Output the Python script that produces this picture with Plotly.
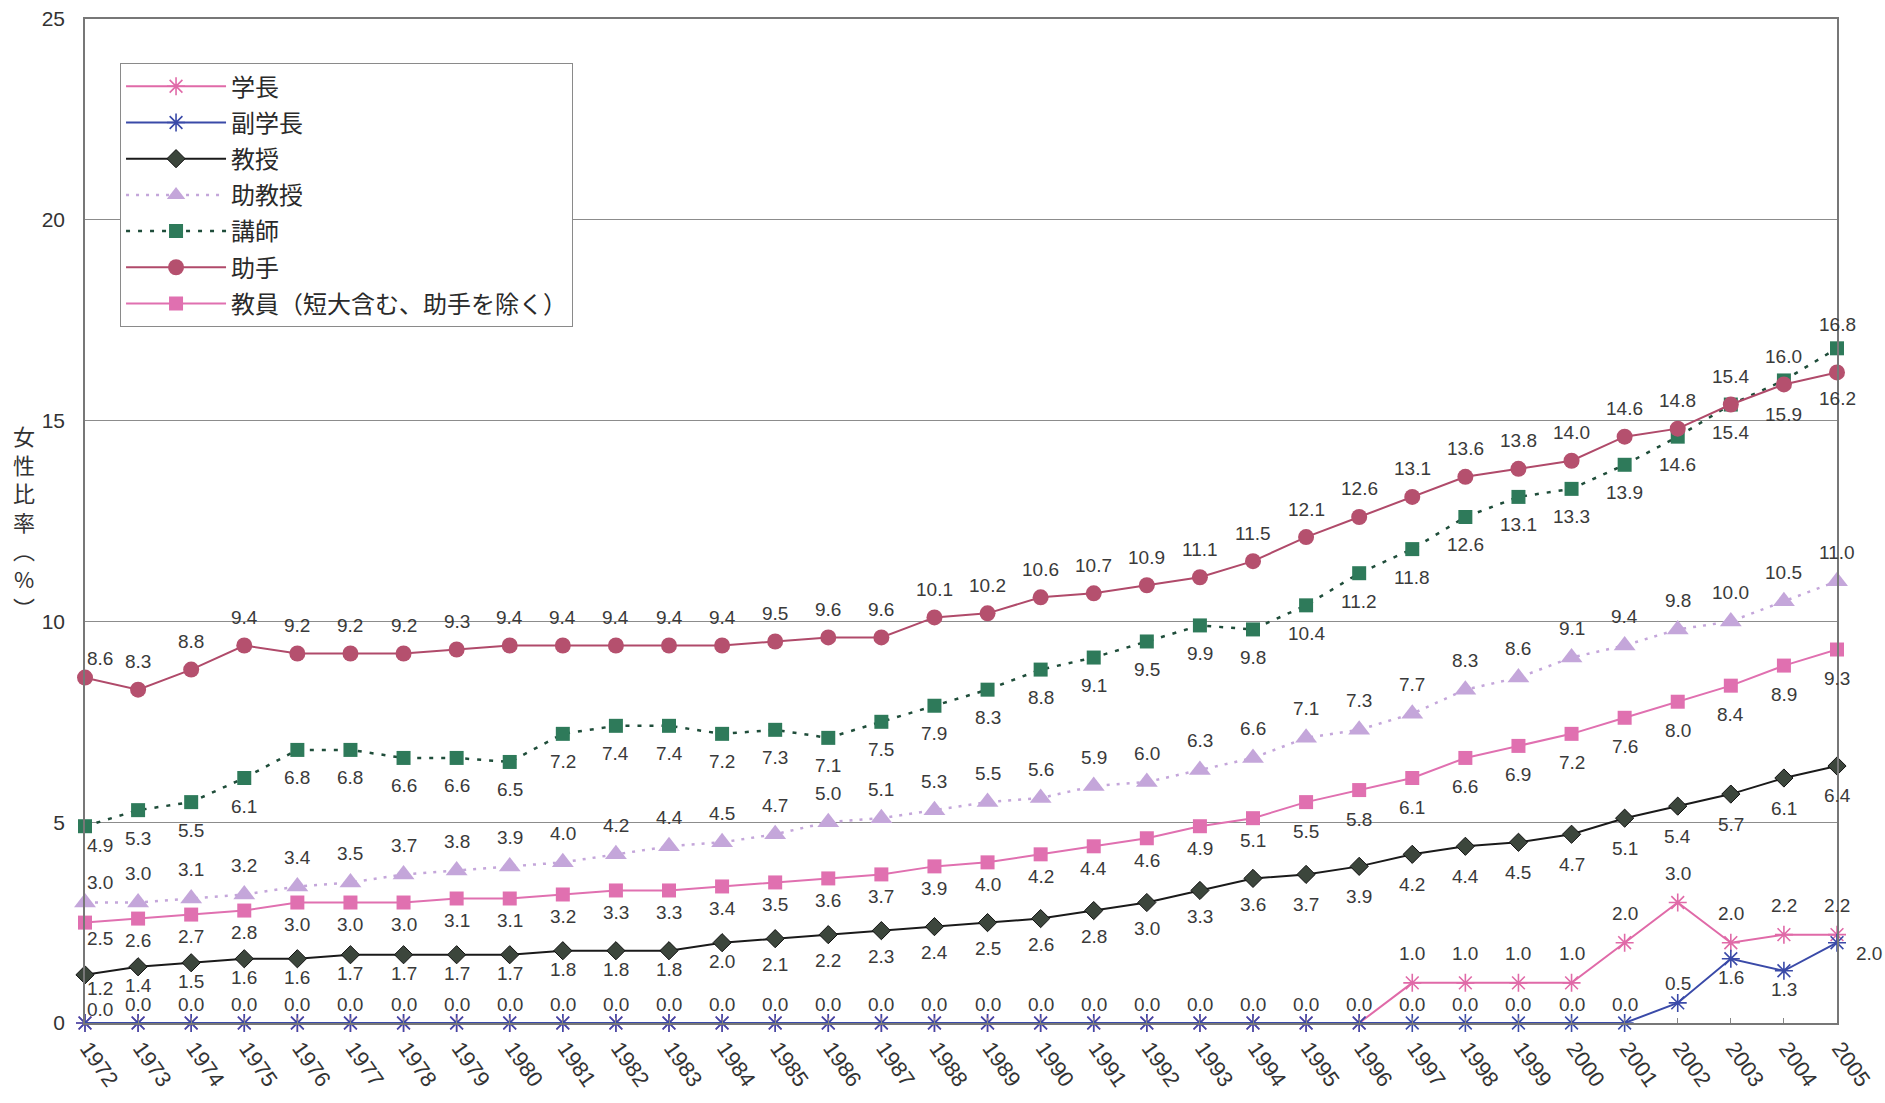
import plotly.graph_objects as go

# ---- data: share of women (%) by position, 1972-2005 ----
years = [1972, 1973, 1974, 1975, 1976, 1977, 1978, 1979, 1980, 1981,
         1982, 1983, 1984, 1985, 1986, 1987, 1988, 1989, 1990, 1991,
         1992, 1993, 1994, 1995, 1996, 1997, 1998, 1999, 2000, 2001,
         2002, 2003, 2004, 2005]

president = [0.0, 0.0, 0.0, 0.0, 0.0, 0.0, 0.0, 0.0, 0.0, 0.0,
             0.0, 0.0, 0.0, 0.0, 0.0, 0.0, 0.0, 0.0, 0.0, 0.0,
             0.0, 0.0, 0.0, 0.0, 0.0, 1.0, 1.0, 1.0, 1.0, 2.0,
             3.0, 2.0, 2.2, 2.2]

vice_president = [0.0, 0.0, 0.0, 0.0, 0.0, 0.0, 0.0, 0.0, 0.0, 0.0,
                  0.0, 0.0, 0.0, 0.0, 0.0, 0.0, 0.0, 0.0, 0.0, 0.0,
                  0.0, 0.0, 0.0, 0.0, 0.0, 0.0, 0.0, 0.0, 0.0, 0.0,
                  0.5, 1.6, 1.3, 2.0]

professor = [1.2, 1.4, 1.5, 1.6, 1.6, 1.7, 1.7, 1.7, 1.7, 1.8,
             1.8, 1.8, 2.0, 2.1, 2.2, 2.3, 2.4, 2.5, 2.6, 2.8,
             3.0, 3.3, 3.6, 3.7, 3.9, 4.2, 4.4, 4.5, 4.7, 5.1,
             5.4, 5.7, 6.1, 6.4]

assoc_professor = [3.0, 3.0, 3.1, 3.2, 3.4, 3.5, 3.7, 3.8, 3.9, 4.0,
                   4.2, 4.4, 4.5, 4.7, 5.0, 5.1, 5.3, 5.5, 5.6, 5.9,
                   6.0, 6.3, 6.6, 7.1, 7.3, 7.7, 8.3, 8.6, 9.1, 9.4,
                   9.8, 10.0, 10.5, 11.0]

lecturer = [4.9, 5.3, 5.5, 6.1, 6.8, 6.8, 6.6, 6.6, 6.5, 7.2,
            7.4, 7.4, 7.2, 7.3, 7.1, 7.5, 7.9, 8.3, 8.8, 9.1,
            9.5, 9.9, 9.8, 10.4, 11.2, 11.8, 12.6, 13.1, 13.3, 13.9,
            14.6, 15.4, 16.0, 16.8]

assistant = [8.6, 8.3, 8.8, 9.4, 9.2, 9.2, 9.2, 9.3, 9.4, 9.4,
             9.4, 9.4, 9.4, 9.5, 9.6, 9.6, 10.1, 10.2, 10.6, 10.7,
             10.9, 11.1, 11.5, 12.1, 12.6, 13.1, 13.6, 13.8, 14.0, 14.6,
             14.8, 15.4, 15.9, 16.2]

faculty = [2.5, 2.6, 2.7, 2.8, 3.0, 3.0, 3.0, 3.1, 3.1, 3.2,
           3.3, 3.3, 3.4, 3.5, 3.6, 3.7, 3.9, 4.0, 4.2, 4.4,
           4.6, 4.9, 5.1, 5.5, 5.8, 6.1, 6.6, 6.9, 7.2, 7.6,
           8.0, 8.4, 8.9, 9.3]

series_names = ["学長", "副学長", "教授", "助教授", "講師", "助手",
                "教員（短大含む、助手を除く）"]
y_ticks = [0, 5, 10, 15, 20, 25]
y_title = ["女", "性", "比", "率", "︵", "%", "︶"]

# ---- styling ----
LABEL_FONT = dict(family="Liberation Sans, Arial, sans-serif", size=19, color="#3a3a3a")
TICK_FONT = dict(family="Liberation Sans, Arial, sans-serif", size=21, color="#333333")
CJK = "Noto Sans CJK JP, Noto Sans CJK SC, sans-serif"

styles = [
    dict(line=dict(color="#e06aa8", width=2),
         marker=dict(symbol="asterisk-open", size=15, color="#e06aa8",
                     line=dict(color="#e06aa8", width=1.6))),
    dict(line=dict(color="#3a4aa8", width=2),
         marker=dict(symbol="asterisk-open", size=15, color="#3a4aa8",
                     line=dict(color="#3a4aa8", width=1.6))),
    dict(line=dict(color="#1a1a1a", width=2),
         marker=dict(symbol="diamond", size=14, color="#3c463c",
                     line=dict(color="#111111", width=1))),
    dict(line=dict(color="#c4a6da", width=2.5, dash="3px,7px"),
         marker=dict(symbol="triangle-up", size=19, color="#c4a6da",
                     line=dict(width=0))),
    dict(line=dict(color="#1f4d3a", width=2.5, dash="4px,8px"),
         marker=dict(symbol="square", size=14, color="#2e7a5a",
                     line=dict(width=0))),
    dict(line=dict(color="#b04a6a", width=2),
         marker=dict(symbol="circle", size=16, color="#b5506e",
                     line=dict(width=0))),
    dict(line=dict(color="#e070b0", width=2),
         marker=dict(symbol="square", size=14, color="#e070b0",
                     line=dict(width=0))),
]

all_series = [president, vice_president, professor, assoc_professor,
              lecturer, assistant, faculty]

fig = go.Figure()
for i, (name, vals, st) in enumerate(zip(series_names, all_series, styles)):
    fig.add_trace(go.Scatter(
        x=years, y=vals, name=name, mode="lines+markers",
        line=st["line"], marker=st["marker"], cliponaxis=False,
        legendgroup=f"g{i}", hoverinfo="skip",
    ))


def add_labels(values, dy, overrides=None, skip_zero=False):
    """Place a value label next to every point of one series.

    dy is a pixel offset (positive = above) or a function of the year.
    """
    overrides = overrides or {}
    for i, (yr, v) in enumerate(zip(years, values)):
        if skip_zero and v == 0:
            continue
        base = dy(yr) if callable(dy) else dy
        dx, sy = 0, base
        if i == 0:
            dx, sy = 15, base * 0.7
        if i in overrides:
            dx, sy = overrides[i]
        fig.add_annotation(x=yr, y=v, text=f"{v:.1f}", showarrow=False,
                           xshift=dx, yshift=sy, font=LABEL_FONT, borderpad=0)


last = len(years) - 1
add_labels(assistant, 28, {last - 1: (0, -30), last: (0, -26)})
add_labels(lecturer, -28, {last - 1: (0, 24), last: (0, 24)})
add_labels(assoc_professor, 29)
add_labels(faculty, lambda yr: -22 if yr < 1995 else -29)
add_labels(professor, lambda yr: -19 if yr < 1985 else (-26 if yr < 1995 else -30))
add_labels(president, 29, skip_zero=True)
add_labels(vice_president, 19, {last - 2: (0, -19), last - 1: (0, -19), last: (32, -11)})

# vertical axis title, one character per line
fig.add_annotation(
    xref="paper", yref="paper", x=-0.035, y=0.5, xanchor="center", yanchor="middle",
    showarrow=False, text="<br>".join(y_title),
    font=dict(family=CJK, size=22, color="#333333"), align="center",
)

fig.update_layout(
    width=1885, height=1103,
    margin=dict(l=85, r=48, t=19, b=80),
    paper_bgcolor="white", plot_bgcolor="white",
    showlegend=True,
    legend=dict(
        x=0.02, y=0.956, xanchor="left", yanchor="top",
        bgcolor="white", bordercolor="#8a8a8a", borderwidth=1,
        font=dict(family=CJK, size=24, color="#2a2a2a"),
        itemwidth=100, tracegroupgap=2,
    ),
    xaxis=dict(
        range=[1972, 2005], tickvals=years, ticktext=[str(y) for y in years],
        tickangle=55, ticks="inside", ticklen=5, tickcolor="#888888",
        showgrid=False, zeroline=False, automargin=False,
        showline=True, linecolor="#777777", linewidth=1.5, mirror=True,
        tickfont=dict(family="Liberation Sans, Arial, sans-serif", size=22, color="#333333"),
        ticklabelshift=3, ticklabelstandoff=2, ticklabeloverflow="allow",
    ),
    yaxis=dict(
        range=[0, 25], tickvals=y_ticks, ticks="",
        showgrid=True, gridcolor="#8c8c8c", gridwidth=1, zeroline=False,
        automargin=False,
        showline=True, linecolor="#777777", linewidth=1.5, mirror=True,
        tickfont=TICK_FONT, ticklabelstandoff=14,
    ),
)

fig.write_html("out.html")
